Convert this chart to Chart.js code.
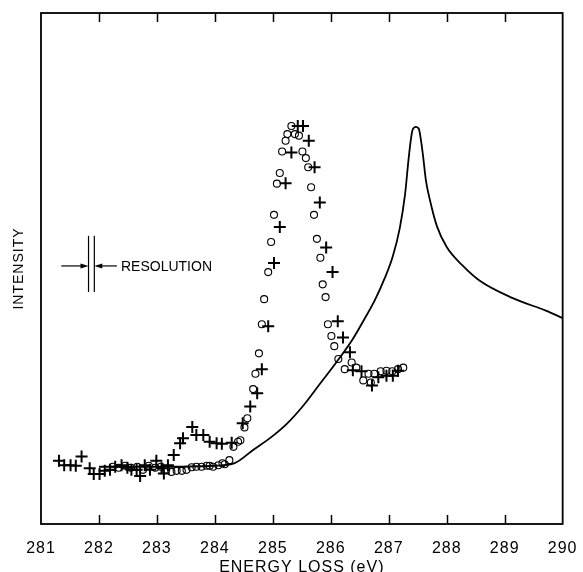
<!DOCTYPE html>
<html>
<head>
<meta charset="utf-8">
<script src="https://cdn.jsdelivr.net/npm/chart.js@4.4.1/dist/chart.umd.min.js"></script>
<style>
html,body{margin:0;padding:0;background:#fff;}
canvas{display:block;}
</style>
</head>
<body>
<canvas id="myChart" width="583" height="572"></canvas>
<script>
"use strict";

// x axis ticks (eV)
const x_ticks = [281, 282, 283, 284, 285, 286, 287, 288, 289, 290];

// solid curve (calculated spectrum)
const curve_E = [282.0, 283.0, 284.0, 284.34, 284.66, 284.95, 285.24, 285.52, 285.81, 286.10,
    286.38, 286.59, 286.76, 286.93, 287.07, 287.19, 287.28, 287.34, 287.38, 287.41,
    287.47, 287.52, 287.55, 287.59, 287.64, 287.71, 287.83, 288.00, 288.28, 288.57,
    289.14, 289.72, 290.00];
const curve_I = [11.2, 11.2, 11.4, 11.9, 14.5, 16.8, 19.6, 23.1, 27.4, 31.7,
    36.2, 40.3, 43.8, 48.1, 52.4, 57.9, 64.4, 71.2, 75.1, 77.1,
    77.7, 77.3, 75.5, 72.2, 67.3, 63.4, 58.3, 54.2, 50.5, 47.6,
    44.2, 41.7, 40.3];

// open circles
const circ_E = [282.24, 282.34, 282.45, 282.55, 282.66, 282.76, 282.86, 282.97, 283.07, 283.16,
    283.25, 283.34, 283.43, 283.51, 283.60, 283.68, 283.77, 283.86, 283.91, 283.97,
    284.06, 284.13, 284.17, 284.25, 284.32, 284.40, 284.44, 284.51, 284.56, 284.66,
    284.70, 284.76, 284.81, 284.85, 284.92, 284.97, 285.02, 285.07, 285.12, 285.16,
    285.22, 285.25, 285.32, 285.38, 285.45, 285.51, 285.57, 285.61, 285.66, 285.71,
    285.76, 285.82, 285.86, 285.91, 285.95, 286.01, 286.06, 286.13, 286.24, 286.36,
    286.44, 286.56, 286.65, 286.69, 286.75, 286.86, 286.96, 287.06, 287.16, 287.25];
const circ_I = [11.2, 11.0, 11.4, 11.0, 11.2, 10.6, 11.4, 11.0, 11.2, 10.6,
    10.2, 10.4, 10.4, 10.6, 11.1, 11.2, 11.2, 11.4, 11.4, 11.2,
    11.5, 11.9, 11.7, 12.5, 15.1, 16.1, 16.4, 18.9, 20.7, 26.4,
    29.4, 33.4, 39.1, 44.0, 49.3, 55.2, 60.5, 66.6, 68.7, 72.9,
    75.0, 76.3, 77.9, 76.3, 76.0, 72.9, 71.6, 69.8, 65.9, 60.5,
    55.8, 52.1, 46.9, 44.4, 39.1, 36.8, 34.8, 32.3, 30.3, 31.6,
    30.6, 28.1, 29.4, 27.7, 29.4, 29.9, 30.0, 29.9, 30.3, 30.6];

// crosses
const plus_E = [281.31, 281.40, 281.51, 281.60, 281.70, 281.84, 281.91, 282.01, 282.10, 282.19,
    282.28, 282.39, 282.49, 282.56, 282.65, 282.71, 282.79, 282.88, 282.99, 283.08,
    283.12, 283.19, 283.29, 283.40, 283.45, 283.61, 283.68, 283.80, 283.91, 284.03,
    284.12, 284.29, 284.48, 284.61, 284.73, 284.81, 284.92, 285.02, 285.12, 285.22,
    285.32, 285.43, 285.52, 285.62, 285.72, 285.81, 285.92, 286.03, 286.12, 286.21,
    286.33, 286.38, 286.53, 286.71, 286.82, 286.96, 287.07, 287.16];
const plus_I = [12.4, 11.5, 11.5, 11.4, 13.2, 10.9, 9.8, 9.8, 10.4, 10.6,
    11.2, 11.5, 11.0, 10.6, 10.6, 9.4, 11.5, 10.6, 12.4, 10.9,
    9.9, 11.5, 13.5, 15.8, 16.8, 19.0, 17.4, 17.4, 16.1, 15.8,
    15.7, 15.9, 19.7, 23.0, 25.6, 30.3, 38.7, 51.1, 58.1, 66.7,
    72.7, 77.9, 77.9, 75.0, 69.8, 62.9, 54.1, 49.3, 39.7, 36.5,
    33.6, 30.1, 29.9, 27.1, 28.7, 29.0, 29.0, 30.0];

// resolution marker (eV / intensity units)
const res_lines = [281.82, 281.92];
const res_span = [45.4, 56.4];
const res_level = 50.5;
const res_arrow_start = [281.35, 282.31];
const res_label_at = 282.38;

function to_xy(xs, ys){
    return xs.map((x, i) => ({x: x, y: ys[i]}));
}

const frame_plugin = {
    id: 'frame',
    beforeDraw(chart){
        chart.ctx.letterSpacing = '1px';
    },
    afterDraw(chart){
        const ctx = chart.ctx;
        const a = chart.chartArea;
        const xs = chart.scales.x;
        const ys = chart.scales.y;
        ctx.save();
        ctx.strokeStyle = '#000';
        ctx.lineWidth = 1.8;
        ctx.strokeRect(a.left, a.top, a.right - a.left, a.bottom - a.top);
        // inward ticks top and bottom
        ctx.lineWidth = 1.5;
        x_ticks.slice(1, -1).forEach(v => {
            const px = Math.round(xs.getPixelForValue(v)) + 0.5;
            ctx.beginPath();
            ctx.moveTo(px, a.bottom); ctx.lineTo(px, a.bottom - 9);
            ctx.moveTo(px, a.top); ctx.lineTo(px, a.top + 9);
            ctx.stroke();
        });
        // resolution marker
        ctx.lineWidth = 1.2;
        const y0 = ys.getPixelForValue(res_span[0]);
        const y1 = ys.getPixelForValue(res_span[1]);
        const yl = ys.getPixelForValue(res_level);
        res_lines.forEach(v => {
            const px = xs.getPixelForValue(v);
            ctx.beginPath(); ctx.moveTo(px, y0); ctx.lineTo(px, y1); ctx.stroke();
        });
        res_arrow_start.forEach((v, i) => {
            const sx = xs.getPixelForValue(v);
            const ex = xs.getPixelForValue(res_lines[i]);
            const dir = ex > sx ? 1 : -1;
            ctx.beginPath(); ctx.moveTo(sx, yl); ctx.lineTo(ex - dir * 6, yl); ctx.stroke();
            ctx.beginPath();
            ctx.moveTo(ex, yl);
            ctx.lineTo(ex - dir * 8, yl - 2.5);
            ctx.lineTo(ex - dir * 8, yl + 2.5);
            ctx.closePath();
            ctx.fillStyle = '#000';
            ctx.fill();
        });
        ctx.letterSpacing = '0px';
        ctx.font = '14px "Liberation Sans", Arial, sans-serif';
        ctx.textBaseline = 'middle';
        ctx.textAlign = 'left';
        ctx.fillStyle = '#000';
        ctx.fillText('RESOLUTION', xs.getPixelForValue(res_label_at), yl + 1);
        ctx.restore();
    }
};

const ctx = document.getElementById('myChart').getContext('2d');
const myChart = new Chart(ctx, {
    type: 'scatter',
    data: {
        datasets: [{
            label: 'curve',
            data: to_xy(curve_E, curve_I),
            showLine: true,
            borderColor: '#000',
            borderWidth: 1.8,
            pointRadius: 0,
            cubicInterpolationMode: 'monotone'
        }, {
            label: 'circles',
            data: to_xy(circ_E, circ_I),
            pointStyle: 'circle',
            pointRadius: 3.5,
            borderColor: '#000',
            borderWidth: 1.1,
            backgroundColor: 'rgba(0,0,0,0)'
        }, {
            label: 'crosses',
            data: to_xy(plus_E, plus_I),
            pointStyle: 'cross',
            pointRadius: 6,
            borderColor: '#000',
            borderWidth: 2,
            backgroundColor: '#000'
        }]
    },
    options: {
        responsive: false,
        animation: false,
        layout: {padding: {top: 13, right: 12, left: 0, bottom: 0}},
        plugins: {legend: {display: false}, tooltip: {enabled: false}},
        scales: {
            x: {
                type: 'linear',
                min: 281, max: 290,
                afterBuildTicks(scale){ scale.ticks = x_ticks.map(v => ({value: v})); },
                afterFit(scale){ scale.height = 48; },
                grid: {display: false},
                border: {display: false},
                ticks: {
                    color: '#000',
                    padding: 7,
                    maxRotation: 0,
                    autoSkip: false,
                    font: {family: '"Liberation Sans", Arial, sans-serif', size: 16}
                },
                title: {
                    display: true,
                    text: 'ENERGY LOSS (eV)',
                    color: '#000',
                    padding: {top: 0, bottom: 0},
                    font: {family: '"Liberation Sans", Arial, sans-serif', size: 16, lineHeight: 0.6}
                }
            },
            y: {
                min: 0, max: 100,
                afterFit(scale){ scale.width = 41; },
                grid: {display: false},
                border: {display: false},
                ticks: {display: false},
                title: {
                    display: true,
                    text: 'INTENSITY',
                    color: '#000',
                    padding: {top: 11, bottom: 0},
                    font: {family: '"Liberation Sans", Arial, sans-serif', size: 14}
                }
            }
        }
    },
    plugins: [frame_plugin]
});
</script>
</body>
</html>
